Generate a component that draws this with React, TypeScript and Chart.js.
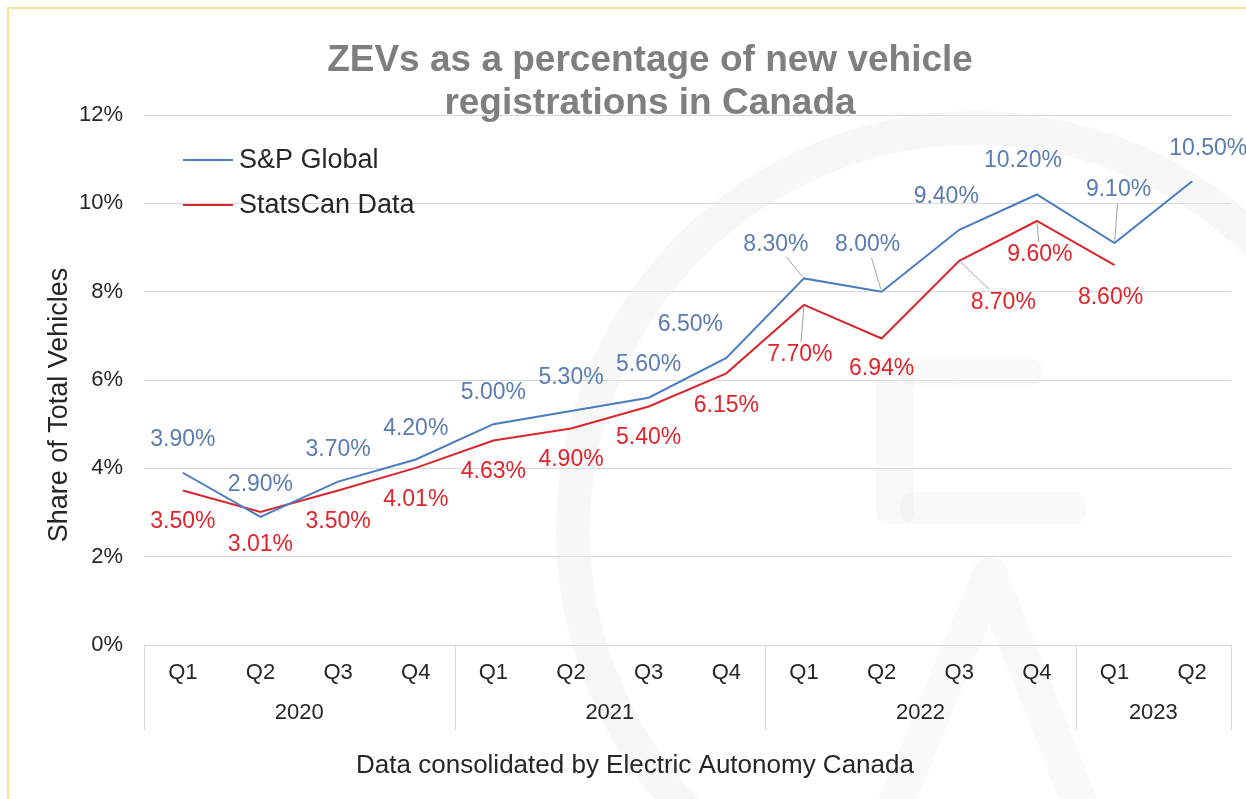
import { useEffect, useRef } from "react";
import { Chart, registerables } from "chart.js";

Chart.register(...registerables);

// ---------- data ----------
const quarterLabels = ["Q1", "Q2", "Q3", "Q4", "Q1", "Q2", "Q3", "Q4", "Q1", "Q2", "Q3", "Q4", "Q1", "Q2"];
const yearLabels = ["2020", "2021", "2022", "2023"];
const quartersPerYear = [4, 4, 4, 2];
const spGlobalValues = [3.9, 2.9, 3.7, 4.2, 5.0, 5.3, 5.6, 6.5, 8.3, 8.0, 9.4, 10.2, 9.1, 10.5];
const statsCanValues: (number | null)[] = [3.5, 3.01, 3.5, 4.01, 4.63, 4.9, 5.4, 6.15, 7.7, 6.94, 8.7, 9.6, 8.6, null];
const yTickValues = [0, 2, 4, 6, 8, 10, 12];
const seriesNames = ["S&P Global", "StatsCan Data"];
const titleLines = ["ZEVs as a percentage of new vehicle", "registrations in Canada"];
const yAxisTitle = "Share of Total Vehicles";
const footerText = "Data consolidated by Electric Autonomy Canada";

// ---------- label placement (pixel nudges from each point) ----------
const spNudges = [[0, -33], [0, -32], [0, -32], [0, -31], [0, -32], [0, -33], [0, -33], [-36, -33], [-28, -34], [-14, -47], [-13, -33], [-14, -34], [4, -53], [16, -33]];
const scNudges = [[0, 31], [0, 33], [0, 31], [0, 32], [0, 31], [0, 31], [0, 31], [0, 32], [-4, 50], [0, 30], [44, 42], [3, 34], [-4, 32], [0, 0]];
const spLeaders = [8, 9, 12];
const scLeaders = [8, 10, 11];

const FONT = "'Liberation Sans', Arial, Helvetica, sans-serif";
const BLUE = "#4a7cc2";
const BLUE_LABEL = "#5a7bb3";
const RED = "#d8262d";
const RED_LABEL = "#e0242c";
const TEXT = "#262626";
const GRID = "#d9d9d9";

function fmt(v: number) {
  return v.toFixed(2) + "%";
}

const chromePlugin = {
  id: "chrome",
  beforeDraw(chart: any) {
    const { ctx, width, height } = chart;
    ctx.save();
    ctx.fillStyle = "#ffffff";
    ctx.fillRect(0, 0, width, height);
    // faint logo watermark
    ctx.strokeStyle = "rgba(0,0,0,0.032)";
    ctx.lineWidth = 34;
    ctx.beginPath();
    ctx.arc(975, 530, 402, 0, Math.PI * 2);
    ctx.stroke();
    ctx.fillStyle = "rgba(0,0,0,0.025)";
    ctx.beginPath();
    ctx.roundRect(876, 359, 38, 165, 10);
    ctx.fill();
    ctx.beginPath();
    ctx.roundRect(900, 359, 143, 26, 10);
    ctx.fill();
    ctx.beginPath();
    ctx.roundRect(900, 492, 186, 32, 12);
    ctx.fill();
    ctx.strokeStyle = "rgba(0,0,0,0.025)";
    ctx.lineWidth = 36;
    ctx.lineJoin = "round";
    ctx.beginPath();
    ctx.moveTo(885, 830);
    ctx.lineTo(990, 575);
    ctx.lineTo(1090, 830);
    ctx.stroke();
    // frame
    ctx.strokeStyle = "#f2e796";
    ctx.lineWidth = 2;
    ctx.beginPath();
    ctx.moveTo(8, height + 2);
    ctx.lineTo(8, 8);
    ctx.lineTo(width + 2, 8);
    ctx.stroke();
    ctx.restore();
  },
  afterDraw(chart: any) {
    const { ctx, chartArea } = chart;
    const xs = chart.scales.x;
    const ys = chart.scales.y;
    const catW = (chartArea.right - chartArea.left) / quarterLabels.length;
    ctx.save();
    // year group separators + labels
    ctx.strokeStyle = GRID;
    ctx.lineWidth = 1;
    let idx = 0;
    const bottom = ys.getPixelForValue(0);
    ctx.font = `22px ${FONT}`;
    ctx.fillStyle = TEXT;
    ctx.textAlign = "center";
    ctx.textBaseline = "middle";
    const edges: number[] = [];
    for (let g = 0; g < yearLabels.length; g++) {
      const start = xs.getPixelForValue(idx) - catW / 2;
      const end = xs.getPixelForValue(idx + quartersPerYear[g] - 1) + catW / 2;
      edges.push(start);
      if (g === yearLabels.length - 1) edges.push(end);
      ctx.fillText(yearLabels[g], (start + end) / 2, 713);
      idx += quartersPerYear[g];
    }
    for (const e of edges) {
      const x = Math.round(e) + 0.5;
      ctx.beginPath();
      ctx.moveTo(x, bottom);
      ctx.lineTo(x, 730);
      ctx.stroke();
    }
    // title
    ctx.fillStyle = "#7f7f7f";
    ctx.font = `bold 37px ${FONT}`;
    ctx.textBaseline = "alphabetic";
    ctx.fillText(titleLines[0], 650, 71);
    ctx.fillText(titleLines[1], 650, 114);
    // y axis title
    ctx.fillStyle = TEXT;
    ctx.font = `27px ${FONT}`;
    ctx.save();
    ctx.translate(60, 405);
    ctx.rotate(-Math.PI / 2);
    ctx.textBaseline = "middle";
    ctx.fillText(yAxisTitle, 0, 0);
    ctx.restore();
    // footer
    ctx.font = `26px ${FONT}`;
    ctx.textBaseline = "middle";
    ctx.fillText(footerText, 635, 766);
    // legend
    ctx.font = `27px ${FONT}`;
    const colors = [BLUE, RED];
    const legendY = [160, 205];
    ctx.textAlign = "left";
    for (let i = 0; i < seriesNames.length; i++) {
      ctx.strokeStyle = colors[i];
      ctx.lineWidth = 2;
      ctx.beginPath();
      ctx.moveTo(183, legendY[i]);
      ctx.lineTo(233, legendY[i]);
      ctx.stroke();
      ctx.fillStyle = TEXT;
      ctx.fillText(seriesNames[i], 239, legendY[i] + 1);
    }
    ctx.restore();
  },
  afterDatasetsDraw(chart: any) {
    const { ctx } = chart;
    const configs = [
      { values: spGlobalValues, nudges: spNudges, leaders: spLeaders, color: BLUE_LABEL },
      { values: statsCanValues, nudges: scNudges, leaders: scLeaders, color: RED_LABEL },
    ];
    ctx.save();
    ctx.font = `23px ${FONT}`;
    ctx.textAlign = "center";
    ctx.textBaseline = "middle";
    configs.forEach((cfg, di) => {
      const meta = chart.getDatasetMeta(di);
      meta.data.forEach((pt: any, i: number) => {
        const v = cfg.values[i];
        if (v === null || v === undefined) return;
        const [dx, dy] = cfg.nudges[i];
        const cx = pt.x + dx;
        const cy = pt.y + dy;
        const text = fmt(v);
        if (cfg.leaders.includes(i)) {
          const hw = ctx.measureText(text).width / 2 + 2;
          const hh = 13;
          const vx = pt.x - cx;
          const vy = pt.y - cy;
          const t = Math.min(vx !== 0 ? hw / Math.abs(vx) : Infinity, vy !== 0 ? hh / Math.abs(vy) : Infinity);
          if (t < 1) {
            ctx.strokeStyle = "#a6a6a6";
            ctx.lineWidth = 1;
            ctx.beginPath();
            ctx.moveTo(cx + vx * t, cy + vy * t);
            ctx.lineTo(pt.x - vx * 0.04, pt.y - vy * 0.04);
            ctx.stroke();
          }
        }
        ctx.fillStyle = cfg.color;
        ctx.fillText(text, cx, cy);
      });
    });
    ctx.restore();
  },
};

export default function App() {
  const ref = useRef<HTMLCanvasElement | null>(null);

  useEffect(() => {
    document.body.style.margin = "0";
    document.body.style.overflow = "hidden";
    const canvas = ref.current;
    if (!canvas) return;
    const chart = new Chart(canvas, {
      type: "line",
      data: {
        labels: quarterLabels,
        datasets: [
          {
            label: seriesNames[0],
            data: spGlobalValues,
            borderColor: BLUE,
            backgroundColor: BLUE,
            borderWidth: 2,
            pointRadius: 0,
            tension: 0,
          },
          {
            label: seriesNames[1],
            data: statsCanValues,
            borderColor: RED,
            backgroundColor: RED,
            borderWidth: 2,
            pointRadius: 0,
            tension: 0,
          },
        ],
      },
      options: {
        responsive: false,
        animation: false,
        layout: { padding: { left: 0, right: 15, top: 115, bottom: 0 } },
        plugins: {
          legend: { display: false },
          title: { display: false },
          tooltip: { enabled: false },
        },
        scales: {
          x: {
            type: "category",
            offset: true,
            grid: { display: false, drawTicks: false },
            border: { display: false },
            ticks: {
              color: TEXT,
              font: { family: FONT, size: 22 },
              padding: 15,
              maxRotation: 0,
              autoSkip: false,
            },
            afterFit: (s: any) => {
              s.height = 154;
            },
          },
          y: {
            min: 0,
            max: 12,
            grid: { color: GRID, lineWidth: 1, drawTicks: false },
            border: { display: false },
            afterBuildTicks: (s: any) => {
              s.ticks = yTickValues.map((v) => ({ value: v }));
            },
            ticks: {
              color: TEXT,
              font: { family: FONT, size: 22 },
              padding: 21,
              callback: (v: any) => `${v}%`,
            },
            afterFit: (s: any) => {
              s.width = 144;
            },
          },
        },
      },
      plugins: [chromePlugin],
    });
    return () => chart.destroy();
  }, []);

  return (
    <div style={{ width: 1246, height: 799 }}>
      <canvas ref={ref} width={1246} height={799} style={{ display: "block" }} />
    </div>
  );
}
